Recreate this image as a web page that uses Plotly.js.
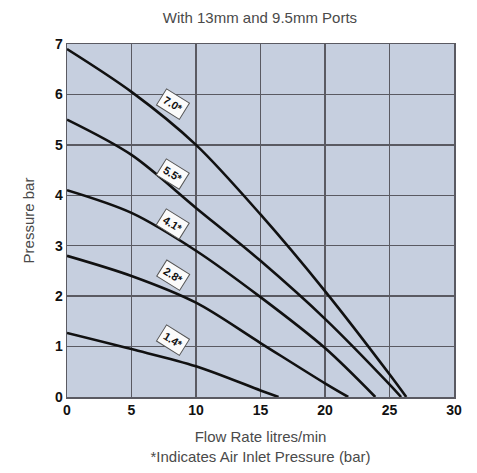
<!DOCTYPE html>
<html>
<head>
<meta charset="utf-8">
<script src="https://cdn.plot.ly/plotly-3.0.1.min.js"></script>
<style>html,body{margin:0;padding:0;background:#fff;}#chart{width:477px;height:473px;}</style>
</head>
<body>
<div id="chart"></div>
<script>
// Flow rate (litres/min) and pressure (bar) for each air inlet pressure curve
const flow70 = [0, 5, 10, 15, 20, 25, 26.3];
const pres70 = [6.9, 6.05, 5.0, 3.62, 2.1, 0.45, 0];
const flow55 = [0, 5, 10, 15, 20, 25, 25.9];
const pres55 = [5.5, 4.8, 3.75, 2.7, 1.55, 0.25, 0];
const flow41 = [0, 5, 10, 15, 20, 23.9];
const pres41 = [4.1, 3.65, 2.9, 1.98, 0.97, 0];
const flow28 = [0, 5, 10, 15, 20, 21.8];
const pres28 = [2.8, 2.4, 1.87, 1.07, 0.27, 0];
const flow14 = [0, 5, 10, 15, 16.4];
const pres14 = [1.27, 0.95, 0.61, 0.13, 0];

const curveLabels = ["7.0*", "5.5*", "4.1*", "2.8*", "1.4*"];
const labelX = [8.2, 8.2, 8.2, 8.2, 8.2];
const labelY = [5.81, 4.43, 3.44, 2.41, 1.13];

const xTicks = [0, 5, 10, 15, 20, 25, 30];
const yTicks = [0, 1, 2, 3, 4, 5, 6, 7];

const series = [[flow70, pres70], [flow55, pres55], [flow41, pres41], [flow28, pres28], [flow14, pres14]];
const traces = series.map(([x, y]) => ({
  x: x, y: y, type: 'scatter', mode: 'lines',
  line: {color: '#111', width: 2.6, shape: 'spline', smoothing: 0.9},
  hoverinfo: 'skip', showlegend: false
}));

const annotations = curveLabels.map((t, i) => ({
  x: labelX[i], y: labelY[i], xref: 'x', yref: 'y', text: '<b>' + t + '</b>',
  showarrow: false, textangle: 32,
  font: {family: 'Liberation Sans, Arial, sans-serif', size: 11, color: '#111'},
  bgcolor: '#fbfbfb', bordercolor: '#555', borderwidth: 1, borderpad: 3
}));

const textFont = 'Liberation Sans, Arial, sans-serif';

const layout = {
  width: 477, height: 473,
  margin: {l: 67, r: 23, t: 44, b: 76},
  paper_bgcolor: '#ffffff',
  plot_bgcolor: '#c6cfdf',
  title: {text: 'With 13mm and 9.5mm Ports', x: 0.545, xanchor: 'center', y: 0.962, yanchor: 'middle',
          font: {family: textFont, size: 15, color: '#4a4a4a'}},
  xaxis: {
    range: [0, 30], tickvals: xTicks, ticktext: xTicks.map(String),
    showgrid: true, gridcolor: '#5a5a62', gridwidth: 1.3,
    showline: true, linecolor: '#5a5a62', linewidth: 1.5, mirror: true,
    zeroline: false, ticks: '', ticklen: 0,
    tickfont: {family: textFont, size: 14, color: '#111', weight: 'bold'},
    title: {text: 'Flow Rate litres/min<br>*Indicates Air Inlet Pressure (bar)', standoff: 14,
            font: {family: textFont, size: 15, color: '#4a4a4a'}}
  },
  yaxis: {
    range: [0, 7], tickvals: yTicks, ticktext: yTicks.map(String),
    showgrid: true, gridcolor: '#5a5a62', gridwidth: 1.3,
    showline: true, linecolor: '#5a5a62', linewidth: 1.5, mirror: true,
    zeroline: false, ticks: '', ticklen: 0,
    tickfont: {family: textFont, size: 14, color: '#111', weight: 'bold'},
    title: {text: 'Pressure bar', standoff: 16,
            font: {family: textFont, size: 15, color: '#4a4a4a'}}
  },
  annotations: annotations
};

Plotly.newPlot('chart', traces, layout, {displayModeBar: false, staticPlot: true});
</script>
</body>
</html>
